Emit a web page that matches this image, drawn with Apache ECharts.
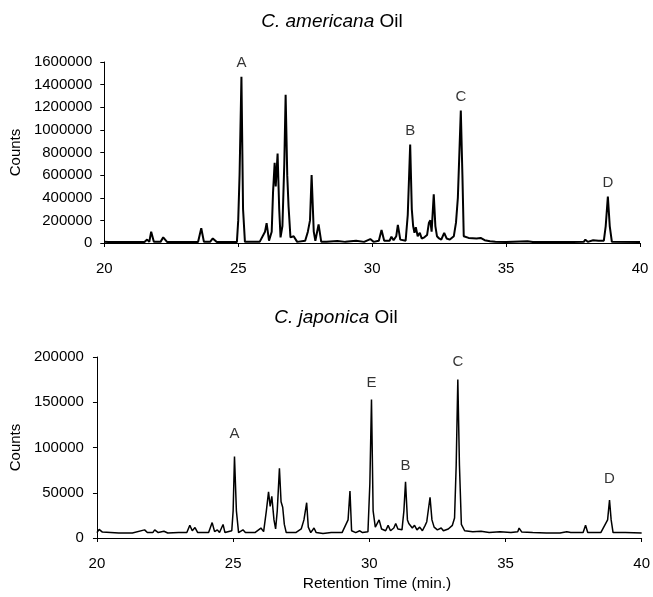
<!DOCTYPE html>
<html>
<head>
<meta charset="utf-8">
<script src="https://cdn.jsdelivr.net/npm/echarts@6/dist/echarts.min.js"></script>
<style>
html,body{margin:0;padding:0;background:#fff;}
#chart{width:653px;height:597px;}
</style>
</head>
<body>
<div id="chart"></div>
<script>
// ---- C. americana oil chromatogram ----
var amTimes = [20.0,20.05,20.15,21.5,21.6,21.68,21.75,21.85,22.1,22.2,22.35,23.5,23.62,23.72,23.95,24.05,24.2,24.95,25.0,25.05,25.12,25.18,25.25,25.8,26.0,26.06,26.15,26.25,26.3,26.36,26.4,26.47,26.53,26.58,26.65,26.72,26.77,26.83,26.88,26.95,27.07,27.2,27.5,27.6,27.68,27.74,27.82,27.88,28.0,28.1,28.3,28.7,29.0,29.4,29.7,29.93,30.05,30.25,30.35,30.45,30.65,30.72,30.8,30.9,30.96,31.05,31.25,31.33,31.42,31.48,31.53,31.58,31.63,31.7,31.78,31.85,31.95,32.05,32.12,32.17,32.22,32.3,32.36,32.42,32.5,32.58,32.69,32.78,32.9,33.05,33.13,33.2,33.31,33.37,33.42,33.6,33.9,34.05,34.2,34.4,34.6,35.0,35.8,36.0,37.5,37.9,37.96,38.05,38.25,38.45,38.65,38.72,38.8,38.87,38.95,40.0];
var amCounts = [10000,25000,8000,8000,30000,10000,100000,10000,10000,50000,8000,8000,130000,10000,10000,40000,8000,8000,200000,600000,1470000,300000,10000,10000,100000,175000,20000,100000,450000,710000,500000,790000,300000,50000,150000,700000,1310000,600000,320000,50000,60000,10000,20000,100000,200000,600000,100000,20000,165000,10000,12000,18000,10000,20000,10000,35000,10000,20000,115000,20000,20000,55000,25000,60000,160000,30000,20000,250000,870000,300000,150000,90000,140000,60000,90000,40000,50000,70000,180000,200000,100000,430000,150000,60000,40000,30000,90000,40000,30000,60000,180000,400000,1170000,600000,60000,45000,40000,45000,25000,15000,10000,8000,15000,8000,8000,10000,30000,10000,25000,20000,20000,150000,410000,150000,10000,8000];
var amPeakNames = ['A','B','C','D'];
var amPeakTimes = [25.12,31.42,33.31,38.8];
var amPeakCounts = [1470000,870000,1170000,410000];

// ---- C. japonica oil chromatogram ----
var jpTimes = [20.0,20.08,20.2,20.8,21.3,21.75,21.85,22.05,22.12,22.25,22.46,22.6,23.0,23.3,23.41,23.5,23.6,23.7,24.1,24.23,24.32,24.42,24.5,24.63,24.7,24.95,25.0,25.05,25.12,25.2,25.36,25.45,25.8,26.02,26.12,26.22,26.3,26.36,26.42,26.5,26.56,26.62,26.7,26.76,26.82,26.88,26.95,27.3,27.5,27.6,27.7,27.76,27.85,27.97,28.05,28.3,28.6,29.0,29.22,29.29,29.35,29.5,29.65,29.75,29.95,30.02,30.08,30.14,30.22,30.36,30.45,30.52,30.6,30.69,30.78,30.9,30.97,31.05,31.2,31.27,31.33,31.4,31.45,31.5,31.58,31.66,31.75,31.85,31.95,32.05,32.11,32.17,32.23,32.3,32.38,32.5,32.64,32.72,32.9,33.05,33.13,33.19,33.25,33.31,33.38,33.5,33.8,34.1,34.4,34.8,35.2,35.45,35.5,35.6,36.0,36.5,37.0,37.25,37.3,37.4,37.85,37.94,38.02,38.5,38.75,38.82,38.88,38.95,39.4,40.0];
var jpCounts = [6000,9600,6500,5500,5500,9000,6000,6000,9000,6000,7500,5500,6000,6000,14000,8000,11500,6000,6000,17000,7000,9000,6000,15000,6000,8000,30000,90000,30000,6000,9000,6000,6000,11000,7000,30000,51000,35000,46000,20000,10000,30000,77000,40000,34000,15000,6000,6000,10000,20000,39000,12000,6000,11000,6000,5000,6000,6000,20000,52000,8000,6000,8000,6000,7000,60000,153000,30000,12000,20000,10000,12000,8000,14000,8000,11000,16000,10000,9000,30000,62000,20000,16000,18000,11000,14000,9000,12000,8000,14000,18000,20000,45000,20000,12000,9000,11000,8000,10000,14000,22000,80000,175000,80000,15000,8000,7000,7500,6000,7000,6000,7000,11000,6500,6000,5500,5500,7000,9000,6000,6000,14000,6000,6000,20000,42000,20000,6000,6000,5500];
var jpPeakNames = ['A','E','B','C','D'];
var jpPeakTimes = [25.05,30.08,31.33,33.25,38.82];
var jpPeakCounts = [90000,153000,62000,175000,42000];

var xTicks = [20,25,30,35,40];

// styling (not data)
var amLabelGaps = [6,6,6,6];
var jpLabelGaps = [15,9,9,10,14];

function pairs(t, c){ return t.map(function(v,i){ return [v, c[i]]; }); }
function peakData(n, t, c, gaps){
  return n.map(function(name,i){
    return {name:name, value:[t[i], c[i]], label:{distance:gaps[i]}};
  });
}

var FONT = '"Liberation Sans", Arial, sans-serif';
var chart = echarts.init(document.getElementById('chart'), null, {renderer:'canvas'});

function xAxisCfg(gridIndex){
  return {
    type:'value', gridIndex:gridIndex, min:xTicks[0], max:xTicks[xTicks.length-1], interval:5,
    axisLine:{show:true, onZero:false, lineStyle:{color:'#000', width:1}},
    axisTick:{show:true, inside:false, length:4, lineStyle:{color:'#000'}},
    splitLine:{show:false},
    axisLabel:{color:'#000', fontSize:15, fontFamily:FONT, margin:18}
  };
}
function yAxisCfg(gridIndex, max, interval, gap, margin){
  return {
    type:'value', gridIndex:gridIndex, min:0, max:max, interval:interval,
    name:'Counts', nameLocation:'middle', nameRotate:90, nameGap:gap,
    nameTextStyle:{color:'#000', fontSize:15, fontFamily:FONT},
    axisLine:{show:true, lineStyle:{color:'#000', width:1}},
    axisTick:{show:true, inside:false, length:4, lineStyle:{color:'#000'}},
    splitLine:{show:false},
    axisLabel:{color:'#000', fontSize:15, fontFamily:FONT, margin:margin, formatter:function(v){return String(v);}}
  };
}
function titleRich(){
  return {rich:{
    i:{fontStyle:'italic', fontWeight:'normal', fontSize:19, fontFamily:FONT, color:'#000'},
    n:{fontWeight:'normal', fontSize:19, fontFamily:FONT, color:'#000'}
  }};
}

var option = {
  animation:false,
  backgroundColor:'#fff',
  title:[
    {text:'{i|C. americana}{n| Oil}', left:327, top:7, textAlign:'center', textStyle:titleRich()},
    {text:'{i|C. japonica}{n| Oil}', left:331, top:303, textAlign:'center', textStyle:titleRich()},
    {text:'Retention Time (min.)', left:372, top:571, textAlign:'center',
     textStyle:{fontSize:15.5, fontWeight:'normal', fontFamily:FONT, color:'#000'}}
  ],
  grid:[
    {left:100, right:13, top:62, height:181},
    {left:96, right:10, top:357, height:181}
  ],
  xAxis:[ xAxisCfg(0), xAxisCfg(1) ],
  yAxis:[ yAxisCfg(0,1600000,200000,79,12), yAxisCfg(1,200000,50000,71,13) ],
  series:[
    {type:'line', xAxisIndex:0, yAxisIndex:0, data:pairs(amTimes, amCounts), showSymbol:false, symbol:'none',
     lineStyle:{color:'#000', width:2}, silent:true},
    {type:'line', xAxisIndex:1, yAxisIndex:1, data:pairs(jpTimes, jpCounts), showSymbol:false, symbol:'none',
     lineStyle:{color:'#000', width:1.5}, silent:true},
    {type:'scatter', xAxisIndex:0, yAxisIndex:0, symbolSize:0, data:peakData(amPeakNames, amPeakTimes, amPeakCounts, amLabelGaps),
     label:{show:true, position:'top', formatter:'{b}', color:'#000', fontSize:15, fontFamily:FONT}, silent:true},
    {type:'scatter', xAxisIndex:1, yAxisIndex:1, symbolSize:0, data:peakData(jpPeakNames, jpPeakTimes, jpPeakCounts, jpLabelGaps),
     label:{show:true, position:'top', formatter:'{b}', color:'#000', fontSize:15, fontFamily:FONT}, silent:true}
  ]
};
chart.setOption(option);
</script>
</body>
</html>
